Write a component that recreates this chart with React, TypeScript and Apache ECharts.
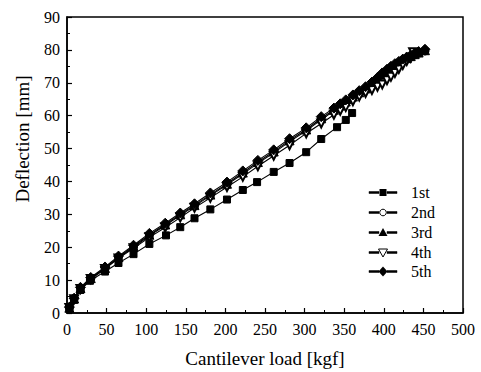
import React, { useEffect, useRef } from "react";
import * as echarts from "echarts";

// Cantilever load [kgf] and deflection [mm] for each loading run
const load1 = [3, 9, 17, 29, 48, 65, 84, 104, 125, 143, 161, 181, 202, 222, 240, 261, 281, 302, 321, 341, 352, 360];
const defl1 = [1.3, 4.0, 7.0, 9.8, 12.6, 15.2, 17.9, 21.0, 23.6, 26.1, 28.8, 31.5, 34.5, 37.4, 39.8, 42.9, 45.6, 48.9, 52.9, 56.5, 58.7, 60.8];

const loadN = [3, 9, 17, 30, 48, 65, 84, 104, 124, 143, 161, 181, 202, 222, 241, 261, 281, 302, 321, 337, 345, 352, 361, 369, 377, 385, 392, 398, 404, 409, 414, 419, 424, 429, 434, 439, 444, 452];
const defl2 = [1.5, 4.3, 7.5, 10.4, 13.5, 16.8, 20.0, 23.5, 26.6, 29.7, 32.5, 35.7, 39.0, 42.3, 45.5, 48.7, 52.1, 55.4, 58.8, 61.4, 62.7, 63.9, 65.4, 66.8, 68.0, 69.4, 70.8, 72.3, 73.4, 74.4, 75.2, 76.0, 76.7, 77.3, 77.9, 78.5, 79.0, 79.7];
const defl3 = [1.6, 4.4, 7.6, 10.6, 13.7, 17.0, 20.3, 23.8, 26.9, 30.0, 32.8, 36.0, 39.3, 42.7, 45.9, 49.1, 52.5, 55.8, 59.2, 61.8, 63.1, 64.3, 65.8, 67.1, 68.3, 69.7, 71.1, 72.6, 73.7, 74.7, 75.5, 76.2, 76.9, 77.5, 78.1, 78.7, 79.2, 79.9];
const defl5 = [1.8, 4.5, 7.8, 10.8, 14.0, 17.3, 20.6, 24.2, 27.3, 30.4, 33.2, 36.5, 39.8, 43.2, 46.4, 49.6, 53.0, 56.3, 59.7, 62.3, 63.6, 64.8, 66.3, 67.6, 68.8, 70.2, 71.6, 73.0, 74.1, 75.0, 75.8, 76.5, 77.2, 77.8, 78.4, 79.0, 79.5, 80.2];

const load4 = [3, 9, 17, 30, 48, 65, 84, 104, 124, 143, 161, 181, 202, 222, 241, 261, 281, 302, 321, 337, 345, 352, 361, 369, 377, 385, 392, 398, 404, 409, 414, 419, 424, 429, 434, 437];
const defl4 = [1.5, 4.2, 7.3, 10.3, 13.4, 16.6, 19.7, 23.0, 26.0, 29.0, 32.0, 35.0, 38.3, 41.4, 44.6, 47.8, 51.0, 54.6, 57.6, 60.3, 61.5, 62.6, 64.4, 65.8, 66.9, 67.8, 68.8, 69.5, 70.8, 71.8, 73.0, 74.2, 75.4, 76.6, 77.6, 79.3];

const runNames = ["1st", "2nd", "3rd", "4th", "5th"];

const FONT = "Liberation Serif";

const pairs = (xs: number[], ys: number[]) => xs.map((x, i) => [x, ys[i]]);

// Legend key: two short strokes either side of the run's marker, then its label
function legendKey(name: string, marker: string, top: number) {
  const cx = 383;
  const leftBar = {
    type: "rect",
    z: 100,
    shape: { x: 369, y: top - 0.5, width: 10, height: 2 },
    style: { fill: "#000", stroke: "#000", lineWidth: 0.5 },
  };
  const rightBar = {
    type: "rect",
    z: 100,
    shape: { x: 387, y: top - 0.5, width: 10, height: 2 },
    style: { fill: "#000", stroke: "#000", lineWidth: 0.5 },
  };
  let sym: any;
  if (marker === "rect") {
    sym = { type: "rect", shape: { x: cx - 3.5, y: top - 3, width: 7, height: 7 }, style: { fill: "#000" } };
  } else if (marker === "circle") {
    sym = { type: "circle", shape: { cx, cy: top + 0.5, r: 3.3 }, style: { fill: "#fff", stroke: "#000", lineWidth: 1 } };
  } else if (marker === "triangle") {
    sym = {
      type: "polygon",
      shape: { points: [[cx, top - 4], [cx + 4.5, top + 4], [cx - 4.5, top + 4]] },
      style: { fill: "#000" },
    };
  } else if (marker === "down") {
    sym = {
      type: "polygon",
      shape: { points: [[cx - 4.5, top - 3], [cx + 4.5, top - 3], [cx, top + 5]] },
      style: { fill: "#fff", stroke: "#000", lineWidth: 1 },
    };
  } else {
    sym = {
      type: "polygon",
      shape: { points: [[cx, top - 4.5], [cx + 4.5, top + 0.5], [cx, top + 5.5], [cx - 4.5, top + 0.5]] },
      style: { fill: "#000" },
    };
  }
  sym.z = 101;
  const label = {
    type: "text",
    x: 411,
    y: top,
    z: 101,
    style: { text: name, fill: "#000", font: `16px ${FONT}`, textAlign: "left", textVerticalAlign: "middle" },
  };
  return [leftBar, rightBar, sym, label];
}

export default function App() {
  const ref = useRef<HTMLDivElement>(null);

  useEffect(() => {
    if (!ref.current) return;
    const chart = echarts.init(ref.current, undefined, { renderer: "svg" });

    const lineSeries = (
      name: string,
      data: number[][],
      symbol: string,
      size: number,
      rotate = 0
    ) => ({
      name,
      type: "line",
      data,
      symbol,
      symbolSize: size,
      symbolRotate: rotate,
      showAllSymbol: true,
      lineStyle: { color: "#000", width: 1.1 },
      itemStyle: { color: "#000", borderColor: "#000", borderWidth: 1 },
      emphasis: { disabled: true },
    });

    const legendMarkers = ["rect", "circle", "triangle", "down", "diamond"];
    const legendTops = [192, 212, 232, 252, 271];

    chart.setOption({
      animation: false,
      backgroundColor: "#fff",
      textStyle: { fontFamily: FONT },
      grid: {
        left: 67,
        right: 18,
        top: 17,
        bottom: 59,
        show: true,
        borderColor: "#000",
        borderWidth: 1.5,
      },
      xAxis: {
        type: "value",
        min: 0,
        max: 500,
        interval: 50,
        axisLine: { show: true, lineStyle: { color: "#000", width: 1.5 } },
        axisTick: { inside: true, length: 5, lineStyle: { color: "#000", width: 1.2 } },
        minorTick: { show: true, splitNumber: 2, length: 3, lineStyle: { color: "#000", width: 1 } },
        splitLine: { show: false },
        axisLabel: { color: "#000", fontFamily: FONT, fontSize: 16, margin: 8 },
      },
      yAxis: {
        type: "value",
        min: 0,
        max: 90,
        interval: 10,
        axisLine: { show: true, lineStyle: { color: "#000", width: 1.5 } },
        axisTick: { inside: true, length: 5, lineStyle: { color: "#000", width: 1.2 } },
        minorTick: { show: true, splitNumber: 2, length: 3, lineStyle: { color: "#000", width: 1 } },
        splitLine: { show: false },
        axisLabel: { color: "#000", fontFamily: FONT, fontSize: 16, margin: 7 },
      },
      graphic: {
        elements: [
          {
            type: "text",
            x: 265,
            y: 358,
            style: {
              text: "Cantilever load [kgf]",
              fill: "#000",
              font: `19px ${FONT}`,
              textAlign: "center",
              textVerticalAlign: "middle",
            },
          },
          {
            type: "text",
            x: 22,
            y: 139,
            rotation: Math.PI / 2,
            style: {
              text: "Deflection [mm]",
              fill: "#000",
              font: `19px ${FONT}`,
              textAlign: "center",
              textVerticalAlign: "middle",
            },
          },
          ...runNames.flatMap((n, i) => legendKey(n, legendMarkers[i], legendTops[i])),
        ],
      },
      series: [
        lineSeries(runNames[0], pairs(load1, defl1), "rect", 7),
        lineSeries(runNames[1], pairs(loadN, defl2), "emptyCircle", 7),
        lineSeries(runNames[2], pairs(loadN, defl3), "triangle", 9),
        lineSeries(runNames[3], pairs(load4, defl4), "emptyTriangle", 8, 180),
        lineSeries(runNames[4], pairs(loadN, defl5), "diamond", 10),
      ],
    });

    return () => chart.dispose();
  }, []);

  return <div ref={ref} style={{ width: 481, height: 372, position: "absolute", left: 0, top: 0 }} />;
}
